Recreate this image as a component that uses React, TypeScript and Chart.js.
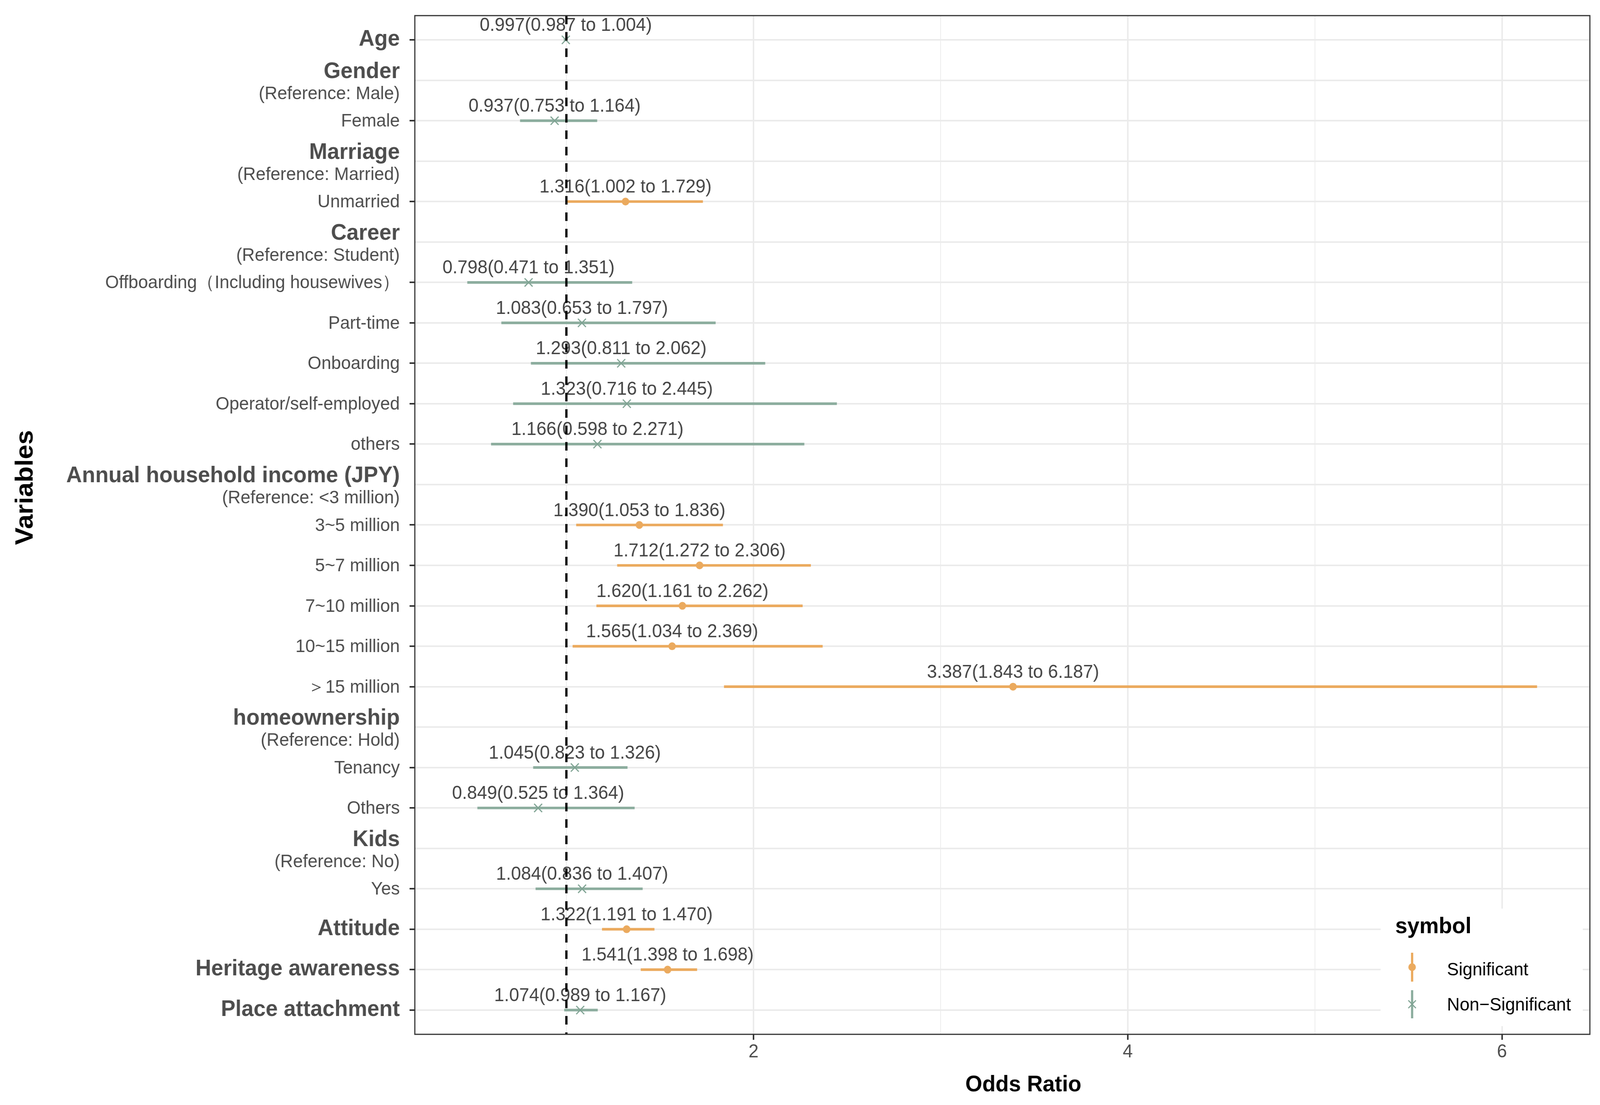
import React, { useEffect, useRef } from 'react';
import { Chart, registerables } from 'chart.js';

Chart.register(...registerables);

const W = 4266;
const H = 2830;
const FONT = '"Liberation Sans", Arial, sans-serif';

// ---------- data ----------
const categories: string[] = [
  'Age',
  'Gender',
  'Female',
  'Marriage',
  'Unmarried',
  'Career',
  'Offboarding（Including housewives）',
  'Part-time',
  'Onboarding',
  'Operator/self-employed',
  'others',
  'Annual household income (JPY)',
  '3~5 million',
  '5~7 million',
  '7~10 million',
  '10~15 million',
  '＞15 million',
  'homeownership',
  'Tenancy',
  'Others',
  'Kids',
  'Yes',
  'Attitude',
  'Heritage awareness',
  'Place attachment',
];

const referenceNotes: string[] = [
  '', '(Reference: Male)', '', '(Reference: Married)', '', '(Reference: Student)',
  '', '', '', '', '',
  '(Reference: <3 million)', '', '', '', '', '',
  '(Reference: Hold)', '', '',
  '(Reference: No)', '',
  '', '', '',
];

const boldRows: boolean[] = [
  true, true, false, true, false, true,
  false, false, false, false, false,
  true, false, false, false, false, false,
  true, false, false,
  true, false,
  true, true, true,
];

const oddsRatio: (number | null)[] = [
  0.997, null, 0.937, null, 1.316, null,
  0.798, 1.083, 1.293, 1.323, 1.166,
  null, 1.390, 1.712, 1.620, 1.565, 3.387,
  null, 1.045, 0.849,
  null, 1.084,
  1.322, 1.541, 1.074,
];

const lowerCI: (number | null)[] = [
  0.987, null, 0.753, null, 1.002, null,
  0.471, 0.653, 0.811, 0.716, 0.598,
  null, 1.053, 1.272, 1.161, 1.034, 1.843,
  null, 0.823, 0.525,
  null, 0.836,
  1.191, 1.398, 0.989,
];

const upperCI: (number | null)[] = [
  1.004, null, 1.164, null, 1.729, null,
  1.351, 1.797, 2.062, 2.445, 2.271,
  null, 1.836, 2.306, 2.262, 2.369, 6.187,
  null, 1.326, 1.364,
  null, 1.407,
  1.470, 1.698, 1.167,
];

const symbol: string[] = [
  'Non-Significant', '', 'Non-Significant', '', 'Significant', '',
  'Non-Significant', 'Non-Significant', 'Non-Significant', 'Non-Significant', 'Non-Significant',
  '', 'Significant', 'Significant', 'Significant', 'Significant', 'Significant',
  '', 'Non-Significant', 'Non-Significant',
  '', 'Non-Significant',
  'Significant', 'Significant', 'Non-Significant',
];

const xMajorTicks: number[] = [2, 4, 6];
const xMinorTicks: number[] = [1, 3, 5];
const referenceLine = 1;
const xTitle = 'Odds Ratio';
const yTitle = 'Variables';
const legendTitle = 'symbol';
const legendLabels: string[] = ['Significant', 'Non−Significant'];

// ---------- styles ----------
const ORANGE = '#EBAA5E';
const GREEN = '#8CAD9E';
const GREEN_DARK = '#7FA393';
const TEXT_GREY = '#4D4D4D';

const dataRows = oddsRatio.map((v, i) => i).filter((i) => oddsRatio[i] != null);
const sigRows = dataRows.filter((i) => symbol[i] === 'Significant');
const nsRows = dataRows.filter((i) => symbol[i] === 'Non-Significant');

const forestPlugin = {
  id: 'forestExtras',
  afterDatasetsDraw(chart: any) {
    const { ctx, chartArea } = chart;
    const x = chart.scales.x;
    const y = chart.scales.y;
    ctx.save();

    // value labels above each estimate
    ctx.font = `48px ${FONT}`;
    ctx.fillStyle = '#444444';
    ctx.textAlign = 'center';
    ctx.textBaseline = 'alphabetic';
    dataRows.forEach((i) => {
      const v = oddsRatio[i] as number;
      const text = `${v.toFixed(3)}(${(lowerCI[i] as number).toFixed(3)} to ${(upperCI[i] as number).toFixed(3)})`;
      ctx.fillText(text, x.getPixelForValue(v), y.getPixelForValue(i) - 23);
    });

    // reference dashed line
    const rx = x.getPixelForValue(referenceLine);
    ctx.strokeStyle = '#000000';
    ctx.lineWidth = 6;
    ctx.setLineDash([22, 20]);
    ctx.beginPath();
    ctx.moveTo(rx, chartArea.top);
    ctx.lineTo(rx, chartArea.bottom);
    ctx.stroke();
    ctx.setLineDash([]);

    // panel border
    ctx.strokeStyle = '#333333';
    ctx.lineWidth = 3;
    ctx.strokeRect(chartArea.left, chartArea.top, chartArea.right - chartArea.left, chartArea.bottom - chartArea.top);

    // legend (inside panel, bottom-right)
    const bx = chartArea.right - 558;
    const by = chartArea.bottom - 322;
    ctx.fillStyle = '#FFFFFF';
    ctx.fillRect(bx, by, 539, 301);
    ctx.fillStyle = '#000000';
    ctx.textAlign = 'left';
    ctx.font = `bold 58px ${FONT}`;
    ctx.fillText(legendTitle, bx + 39, by + 63);

    const kx = bx + 84;
    const k1 = by + 150;
    const k2 = by + 245;
    // Significant key
    ctx.strokeStyle = ORANGE;
    ctx.lineWidth = 6;
    ctx.beginPath();
    ctx.moveTo(kx, k1 - 37);
    ctx.lineTo(kx, k1 + 37);
    ctx.stroke();
    ctx.fillStyle = ORANGE;
    ctx.beginPath();
    ctx.arc(kx, k1, 10, 0, Math.PI * 2);
    ctx.fill();
    // Non-significant key
    ctx.strokeStyle = GREEN;
    ctx.lineWidth = 6;
    ctx.beginPath();
    ctx.moveTo(kx, k2 - 36);
    ctx.lineTo(kx, k2 + 36);
    ctx.stroke();
    ctx.strokeStyle = GREEN_DARK;
    ctx.lineWidth = 3;
    ctx.beginPath();
    ctx.moveTo(kx - 10, k2 - 10);
    ctx.lineTo(kx + 10, k2 + 10);
    ctx.moveTo(kx - 10, k2 + 10);
    ctx.lineTo(kx + 10, k2 - 10);
    ctx.stroke();

    ctx.fillStyle = '#000000';
    ctx.font = `47px ${FONT}`;
    ctx.fillText(legendLabels[0], bx + 177, k1 + 21);
    ctx.fillText(legendLabels[1], bx + 177, k2 + 16);

    ctx.restore();
  },
  afterDraw(chart: any) {
    const { ctx, chartArea } = chart;
    const y = chart.scales.y;
    ctx.save();
    ctx.fillStyle = TEXT_GREY;
    ctx.textAlign = 'right';
    ctx.textBaseline = 'alphabetic';
    const lx = chartArea.left - 40;
    categories.forEach((c, i) => {
      const py = y.getPixelForValue(i);
      if (referenceNotes[i]) {
        ctx.font = `bold 58px ${FONT}`;
        ctx.fillText(c, lx, py - 6);
        ctx.font = `47px ${FONT}`;
        ctx.fillText(referenceNotes[i], lx, py + 48);
      } else {
        ctx.font = boldRows[i] ? `bold 58px ${FONT}` : `47px ${FONT}`;
        ctx.fillText(c, lx, py + 15);
      }
    });

    // axis titles
    ctx.fillStyle = '#000000';
    ctx.textAlign = 'center';
    ctx.font = `bold 58px ${FONT}`;
    ctx.fillText(xTitle, (chartArea.left + chartArea.right) / 2 + 56, chartArea.bottom + 146);

    ctx.translate(87, (chartArea.top + chartArea.bottom) / 2 - 96);
    ctx.rotate(-Math.PI / 2);
    ctx.font = `bold 67px ${FONT}`;
    ctx.fillText(yTitle, 0, 0);
    ctx.restore();
  },
};

export default function App() {
  const ref = useRef<HTMLCanvasElement | null>(null);
  const vw = (typeof window !== 'undefined' && window.innerWidth) || W;
  const vh = (typeof window !== 'undefined' && window.innerHeight) || H;
  const sx = vw / W;
  const sy = vh / H;

  useEffect(() => {
    document.body.style.margin = '0';
    document.body.style.overflow = 'hidden';
    const canvas = ref.current;
    if (!canvas) return;

    const chart = new Chart(canvas, {
      type: 'scatter',
      data: {
        datasets: [
          {
            type: 'bar',
            indexAxis: 'y',
            data: dataRows.map((i) => ({ x: [lowerCI[i] as number, upperCI[i] as number], y: i })),
            backgroundColor: dataRows.map((i) => (symbol[i] === 'Significant' ? ORANGE : GREEN)),
            barThickness: 6,
            borderWidth: 0,
            borderSkipped: false,
            grouped: false,
            order: 2,
          } as any,
          {
            type: 'scatter',
            data: sigRows.map((i) => ({ x: oddsRatio[i] as number, y: i })),
            pointStyle: 'circle',
            pointRadius: 10,
            pointBackgroundColor: ORANGE,
            pointBorderWidth: 0,
            order: 1,
          } as any,
          {
            type: 'scatter',
            data: nsRows.map((i) => ({ x: oddsRatio[i] as number, y: i })),
            pointStyle: 'crossRot',
            pointRadius: 15,
            pointBorderColor: GREEN_DARK,
            pointBorderWidth: 3,
            order: 1,
          } as any,
        ],
      },
      options: {
        responsive: false,
        animation: false,
        devicePixelRatio: 1,
        events: [],
        layout: { padding: { top: 40, right: 27, bottom: 0, left: 0 } },
        plugins: {
          legend: { display: false },
          tooltip: { enabled: false },
          title: { display: false },
        },
        scales: {
          x: {
            type: 'linear',
            min: 0.19,
            max: 6.47,
            bounds: 'data',
            offset: false,
            afterBuildTicks: (s: any) => {
              s.ticks = [...xMinorTicks, ...xMajorTicks].sort((a, b) => a - b).map((v) => ({ value: v }));
            },
            afterFit: (s: any) => {
              s.height = H - 2649;
            },
            ticks: {
              autoSkip: false,
              padding: 3,
              color: TEXT_GREY,
              font: { family: FONT, size: 48 },
              callback: (v: any) => (xMajorTicks.includes(Number(v)) ? String(v) : ''),
            },
            grid: {
              offset: false,
              color: '#EBEBEB',
              lineWidth: (c: any) => (c.tick && xMajorTicks.includes(c.tick.value) ? 4 : 2),
              drawTicks: true,
              tickLength: 14,
              tickWidth: 4,
              tickColor: (c: any) => (c.tick && xMajorTicks.includes(c.tick.value) ? '#333333' : 'rgba(0,0,0,0)'),
            },
            border: { display: false },
          },
          y: {
            type: 'linear',
            reverse: true,
            min: -0.6,
            max: categories.length - 1 + 0.6,
            bounds: 'data',
            offset: false,
            afterBuildTicks: (s: any) => {
              s.ticks = categories.map((_, i) => ({ value: i }));
            },
            afterFit: (s: any) => {
              s.width = 1106;
            },
            ticks: { display: false, autoSkip: false },
            grid: {
              offset: false,
              color: '#EBEBEB',
              lineWidth: 4,
              drawTicks: true,
              tickLength: 14,
              tickWidth: 4,
              tickColor: (c: any) => (referenceNotes[c.index] ? 'rgba(0,0,0,0)' : '#333333'),
            },
            border: { display: false },
          },
        },
      } as any,
      plugins: [forestPlugin],
    });

    return () => chart.destroy();
  }, []);

  return (
    <div style={{ width: vw, height: vh, overflow: 'hidden', position: 'relative', background: '#FFFFFF' }}>
      <canvas
        ref={ref}
        width={W}
        height={H}
        style={{
          display: 'block',
          width: W,
          height: H,
          position: 'absolute',
          left: 0,
          top: 0,
          transformOrigin: '0 0',
          transform: `scale(${sx}, ${sy})`,
        }}
      />
    </div>
  );
}
